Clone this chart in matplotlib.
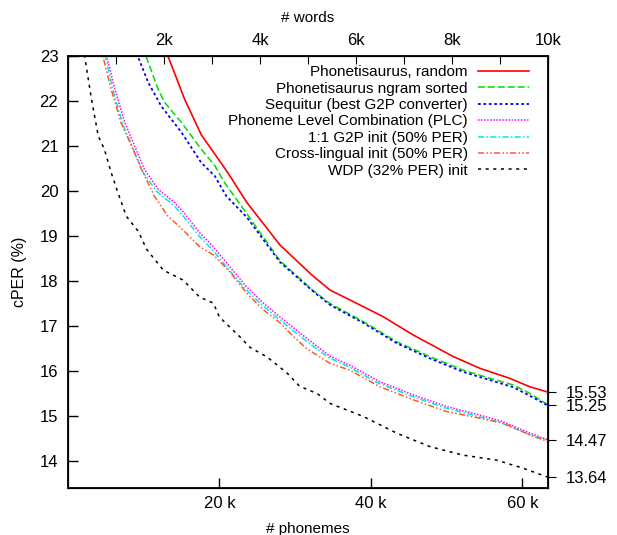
"""cPER vs. amount of training data for several G2P initialisations."""
import matplotlib
matplotlib.use("Agg")
import matplotlib.pyplot as plt

plt.rcParams["font.family"] = ["Liberation Sans", "DejaVu Sans"]

# x values in thousands of phonemes, y values cPER (%)
red_x = [11.8, 13.2, 15.4, 17.6, 21.1, 23.6, 28.0, 32.3, 34.6, 39.0, 41.6, 45.6,
         50.9, 54.4, 58.3, 61.0, 63.4]
red_y = [23.5, 23.0, 22.04, 21.25, 20.41, 19.75, 18.8, 18.12, 17.8, 17.43, 17.21,
         16.8, 16.32, 16.06, 15.84, 15.65, 15.53]

green_x = [9.3, 10.3, 11.9, 12.8, 15.0, 17.6, 19.4, 20.7, 23.6, 28.0, 32.3, 34.6,
           39.0, 43.4, 47.8, 52.2, 55.7, 58.8, 61.0, 63.4]
green_y = [23.4, 23.0, 22.26, 21.96, 21.52, 20.93, 20.56, 20.18, 19.5, 18.45, 17.8,
           17.5, 17.1, 16.65, 16.32, 16.02, 15.84, 15.69, 15.5, 15.25]

blue_x = [8.3, 9.2, 10.6, 12.3, 15.0, 17.6, 19.4, 20.9, 23.6, 28.0, 32.3, 34.6,
          39.0, 43.4, 47.8, 52.2, 55.7, 58.8, 61.0, 63.4]
blue_y = [23.4, 23.0, 22.41, 21.89, 21.3, 20.63, 20.33, 19.89, 19.42, 18.42, 17.78,
          17.47, 17.07, 16.62, 16.28, 15.98, 15.8, 15.64, 15.45, 15.23]

plc_x = [4.0, 5.1, 6.2, 7.5, 8.8, 10.1, 11.9, 14.1, 15.4, 17.4, 19.2, 21.4, 23.6,
         25.8, 28.0, 31.5, 34.6, 37.2, 41.2, 45.6, 50.0, 54.4, 57.5, 61.0, 63.4]
plc_y = [23.6, 23.0, 22.26, 21.52, 21.0, 20.48, 20.04, 19.74, 19.5, 19.07, 18.76,
         18.31, 17.87, 17.51, 17.2, 16.73, 16.33, 16.13, 15.76, 15.47, 15.21, 15.02,
         14.87, 14.62, 14.47]

cyan_x = [3.9, 5.0, 6.0, 7.3, 8.6, 9.9, 11.7, 13.9, 15.2, 17.2, 19.0, 21.2, 23.4,
          25.6, 27.8, 31.3, 34.4, 37.0, 41.0, 45.4, 49.8, 54.2, 57.3, 60.8, 63.4]
cyan_y = [23.55, 22.95, 22.2, 21.45, 20.94, 20.42, 19.99, 19.69, 19.45, 19.02, 18.71,
          18.26, 17.83, 17.47, 17.16, 16.69, 16.3, 16.1, 15.73, 15.44, 15.18, 14.99,
          14.84, 14.6, 14.46]

cross_x = [3.5, 4.6, 5.7, 7.0, 8.4, 9.7, 11.4, 13.2, 14.8, 17.4, 19.2, 21.4, 23.6,
           25.8, 28.0, 29.7, 31.5, 34.6, 37.2, 41.2, 45.6, 50.0, 54.4, 57.5, 61.0, 63.4]
cross_y = [23.6, 23.0, 22.26, 21.52, 21.0, 20.48, 19.89, 19.44, 19.2, 18.76, 18.58,
           18.2, 17.73, 17.36, 17.07, 16.78, 16.5, 16.17, 16.02, 15.65, 15.36, 15.1,
           14.95, 14.84, 14.58, 14.43]

wdp_x = [1.5, 2.2, 3.1, 4.0, 4.8, 5.7, 6.6, 7.7, 9.3, 10.4, 12.6, 15.2, 17.4, 19.2,
         20.0, 22.7, 24.0, 26.3, 28.9, 30.6, 32.9, 34.6, 39.0, 43.4, 47.8, 52.2, 56.6,
         60.1, 63.4]
wdp_y = [23.7, 23.0, 22.04, 21.22, 20.93, 20.41, 19.96, 19.44, 19.1, 18.7, 18.24,
         18.02, 17.64, 17.51, 17.2, 16.76, 16.53, 16.31, 15.96, 15.66, 15.5, 15.28,
         14.99, 14.62, 14.32, 14.13, 14.02, 13.84, 13.64]

labels = ["Phonetisaurus, random", "Phonetisaurus ngram sorted",
          "Sequitur (best G2P converter)", "Phoneme Level Combination (PLC)",
          "1:1 G2P init (50% PER)", "Cross-lingual init (50% PER)",
          "WDP (32% PER) init"]
final_values = [15.53, 15.25, 14.47, 13.64]
phoneme_ticks = [20, 40, 60]
word_ticks = list(range(1, 11))

series = [
    (red_x, red_y, "#ff0000", None, 1.2),
    (green_x, green_y, "#00dd00", (4.5, 2), 1.1),
    (blue_x, blue_y, "#0000ff", (1.5, 1.5), 1.3),
    (plc_x, plc_y, "#ff00ff", (1, 1), 1.1),
    (cyan_x, cyan_y, "#00e8e8", (4, 1.5, 1, 1.5), 1.1),
    (cross_x, cross_y, "#ff5a1e", (4, 1.5, 1, 1.5, 1, 1.5), 1.1),
    (wdp_x, wdp_y, "#000000", (2, 3), 1.1),
]

fig = plt.figure(figsize=(6.17, 5.35), dpi=100)
ax = fig.add_axes([68 / 617, 1 - 488 / 535, 480 / 617, 432 / 535])

for (xs, ys, col, dash, lw), lab in zip(series, labels):
    line, = ax.plot([v * 1000 for v in xs], ys, color=col, lw=lw, label=lab)
    if dash is not None:
        line.set_dashes(dash)

ax.set_xlim(0, 63400)
ax.set_ylim(13.4, 23)
ax.set_xticks([v * 1000 for v in phoneme_ticks])
ax.set_xticklabels([f"{v} k" for v in phoneme_ticks])
ax.set_yticks(range(14, 24))
ax.tick_params(axis="both", direction="in", labelsize=12, length=7, width=1)
ax.tick_params(axis="y", pad=7)
ax.tick_params(axis="x", pad=6)
ax.tick_params(top=False, right=False)
ax.set_xlabel("# phonemes", fontsize=11, labelpad=8)
ax.set_ylabel("cPER (%)", fontsize=11.5, labelpad=9)
for sp in ax.spines.values():
    sp.set_linewidth(1.3)

# right axis: final values
axr = ax.twinx()
axr.set_ylim(ax.get_ylim())
axr.set_yticks(final_values)
axr.set_yticklabels([f"{v:.2f}" for v in final_values])
axr.tick_params(axis="y", direction="out", length=6, labelsize=12, pad=7)

# top axis: words
axt = ax.twiny()
axt.set_xlim(0, 10000)
axt.set_xticks([v * 1000 for v in word_ticks])
axt.set_xticklabels([f"{v}k" if v % 2 == 0 else "" for v in word_ticks])
axt.tick_params(axis="x", direction="in", length=6, labelsize=12, pad=6)
axt.set_xlabel("# words", fontsize=11, labelpad=8)

leg = ax.legend(loc="upper right", bbox_to_anchor=(0.960, 0.979),
                markerfirst=False, frameon=False, fontsize=11,
                handlelength=3.3, handletextpad=0.7, labelspacing=0.16,
                borderpad=0, borderaxespad=0)

fig.savefig("out.png", dpi=100)
